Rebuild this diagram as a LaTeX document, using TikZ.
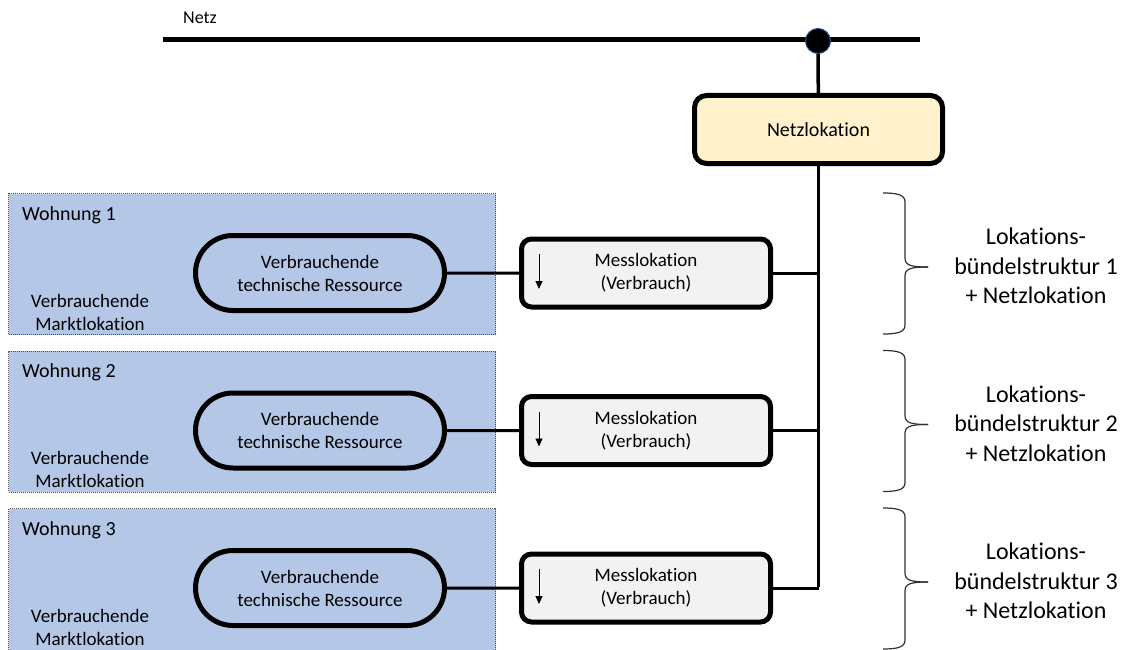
\documentclass[tikz,border=0pt]{standalone}
\usepackage{fontspec}
\setmainfont{Carlito}[Ligatures=NoCommon]
\usetikzlibrary{shapes.misc,arrows.meta,calc}
\definecolor{wohnblue}{HTML}{B4C7E7}
\definecolor{netzyellow}{HTML}{FFF2CC}
\definecolor{messgray}{HTML}{F2F2F2}
\definecolor{dotblue}{HTML}{2F528F}
\definecolor{bracegray}{HTML}{303030}

% draws a right-pointing curly brace: top y, tip y, bottom y
\newcommand{\lbbrace}[3]{%
  \draw[bracestyle] (883,#1) .. controls (898,#1) and (905,#1+2) .. (905,#1+9)
    -- (905,#2-9) .. controls (905,#2-2) and (910,#2) .. (928,#2);
  \draw[bracestyle] (928,#2) .. controls (910,#2) and (905,#2+2) .. (905,#2+9)
    -- (905,#3-9) .. controls (905,#3-2) and (898,#3) .. (883,#3);
}

\begin{document}
\begin{tikzpicture}[x=1pt,y=-1pt,
  txt/.style={font=\fontsize{19}{23}\selectfont, align=center},
  wohnbox/.style={rectangle, fill=wohnblue, draw=black!70,
    dash pattern=on 1pt off 1pt, line width=1.2pt,
    minimum width=487pt, inner sep=0pt, anchor=north west},
  resbox/.style={txt, rounded rectangle, draw, line width=5pt,
    minimum width=249pt, minimum height=75pt, inner sep=0pt},
  messbox/.style={txt, rectangle, rounded corners=10pt, draw, fill=messgray,
    line width=5pt, minimum width=249pt, minimum height=68pt, inner sep=0pt},
  netzbox/.style={rectangle, rounded corners=12pt, draw, fill=netzyellow,
    line width=5pt, minimum width=248pt, minimum height=68pt,
    font=\fontsize{20}{24}\selectfont},
  conn/.style={line width=3pt},
  bus/.style={line width=3.5pt},
  bracestyle/.style={draw=bracegray, line width=1.2pt},
  flow/.style={line width=0.9pt, -{Triangle[length=8pt,width=7pt]}},
  biglabel/.style={font=\fontsize{24}{29.5}\selectfont, align=center}
]
\useasboundingbox (0,0) rectangle (1127,650);
\clip (0,0) rectangle (1127,650);

% grid line at the top
\node[font=\fontsize{18}{22}\selectfont, anchor=base west, inner sep=0pt] (netzlabel) at (183,24) {Netz};
\coordinate (netzL) at (163,40);
\coordinate (netzR) at (920,40);
\draw[line width=5pt] (netzL) -- (netzR);
\node[circle, fill=black, draw=dotblue, line width=1pt, minimum size=25pt, inner sep=0pt] (knot) at (818,41) {};

% grid location
\node[netzbox] (nl) at (818.5,129.5) {Netzlokation};
\draw[bus] (knot) -- (nl);
\coordinate (busend) at (818.5,587);
\draw[bus] (nl.south) -- (busend);

% three flats, each with consumer, meter and bundle label
\foreach \i/\y/\h in {1/272/141, 2/429.5/141, 3/587/160} {
  \node[wohnbox, minimum height=\h pt] (w\i) at (8,\y-79) {};
  \node[anchor=west, font=\fontsize{20}{24}\selectfont, inner sep=0pt] (wl\i) at (22,\y-57) {Wohnung \i};
  \node[txt] (ml\i) at (90,\y+40) {Verbrauchende\\Marktlokation};
  \node[resbox] (r\i) at (320,\y+1) {Verbrauchende\\technische Ressource};
  \node[messbox] (m\i) at (646,\y+1) {Messlokation\\(Verbrauch)};
  \draw[flow] ($(m\i.west)+(20,-19)$) -- ($(m\i.west)+(20,16)$);
  \draw[conn] (r\i) -- (m\i);
  \draw[conn] (m\i.east) -- (m\i.east -| busend);
  \lbbrace{\y-79}{\y-5}{\y+62}
  \node[biglabel] (lb\i) at (1036,\y-6) {Lokations-\\bündelstruktur \i\\+ Netzlokation};
}
\end{tikzpicture}
\end{document}
